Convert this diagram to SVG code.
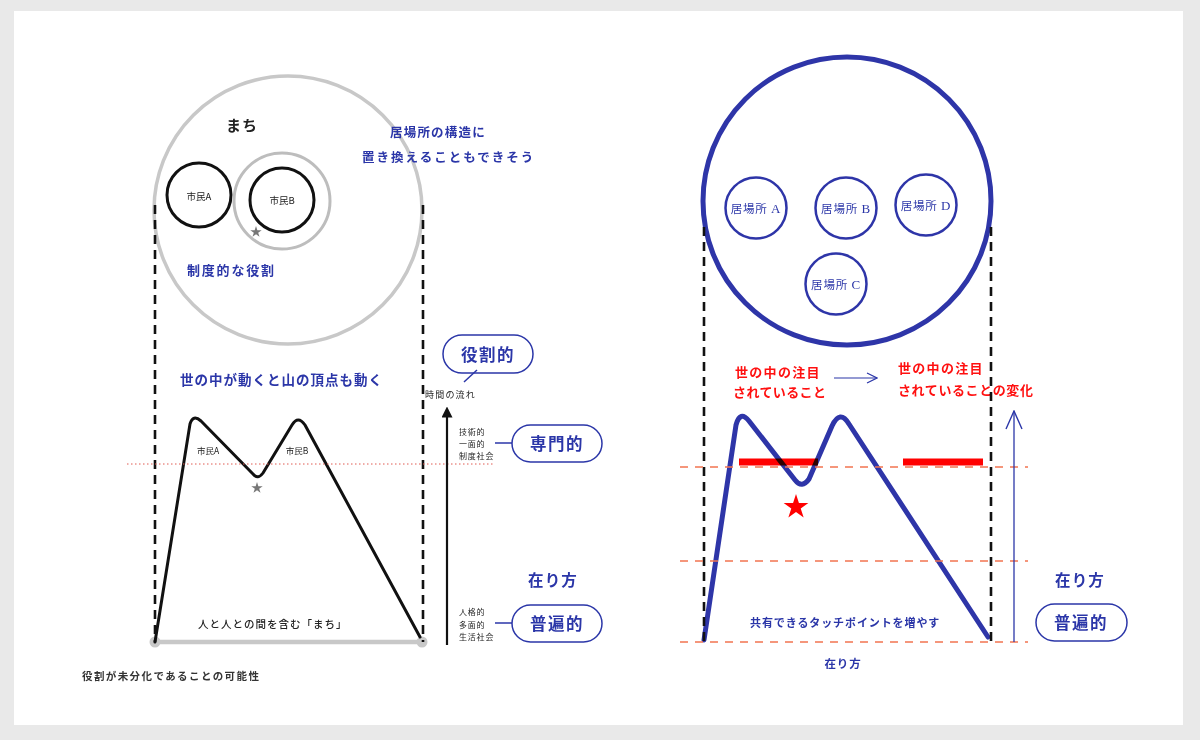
<svg xmlns="http://www.w3.org/2000/svg" width="1200" height="740" viewBox="0 0 1200 740">
<defs>
<style>
text{font-family:"Noto Sans CJK JP","Noto Sans",sans-serif;}
.blue{fill:#2b36a8;font-weight:bold;}
.red{fill:#ff1010;font-weight:bold;}
.blk{fill:#222;font-weight:bold;}
.pill{fill:#fff;stroke:#2b36a8;stroke-width:1.5;}
.dashv{stroke:#111;stroke-width:2.6;stroke-dasharray:9 6;fill:none;}
.orange{stroke:#f27450;stroke-width:1.3;stroke-dasharray:8 7;fill:none;}
.thinblue{stroke:#2b36a8;stroke-width:1.5;fill:none;}
.ib{fill:#2b36a8;font-size:11.5px;letter-spacing:0.8px;}
.ser{font-family:"Liberation Serif","DejaVu Serif",serif;font-size:13px;}
</style>
<polygon id="star" points="0,-10 2.25,-3.09 9.51,-3.09 3.63,1.18 5.88,8.09 0,3.82 -5.88,8.09 -3.63,1.18 -9.51,-3.09 -2.25,-3.09"/>
<marker id="arrBlack" viewBox="0 0 10 10" refX="5" refY="5" markerWidth="5" markerHeight="5" orient="auto">
<path d="M0,0 L10,5 L0,10 z" fill="#111"/>
</marker>
<marker id="arrOpen" viewBox="0 0 12 12" refX="11" refY="6" markerWidth="12" markerHeight="12" markerUnits="userSpaceOnUse" orient="auto">
<path d="M1,1 L11,6 L1,11" fill="none" stroke="#2b36a8" stroke-width="1.2"/>
</marker>
<marker id="arrOpenBig" viewBox="0 0 20 20" refX="19" refY="10" markerWidth="20" markerHeight="20" markerUnits="userSpaceOnUse" orient="auto">
<path d="M1,2 L19,10 L1,18" fill="none" stroke="#2b36a8" stroke-width="1.4"/>
</marker>
</defs>
<rect x="0" y="0" width="1200" height="740" fill="#e9e9e9"/>
<rect x="14" y="11" width="1169" height="714" fill="#fff"/>

<!-- LEFT PANEL -->
<g id="machi-circle">
<circle cx="288" cy="210" r="134" fill="none" stroke="#c8c8c8" stroke-width="3.5"/>
<text x="242" y="131" class="blk" font-size="15" text-anchor="middle" letter-spacing="1">まち</text>
</g>
<g id="shimin-a">
<circle cx="199" cy="195" r="32" fill="none" stroke="#111" stroke-width="3"/>
<text x="199" y="200" fill="#222" font-size="9.5" text-anchor="middle">市民A</text>
</g>
<g id="shimin-b">
<circle cx="282" cy="201" r="48" fill="none" stroke="#bdbdbd" stroke-width="3"/>
<circle cx="282" cy="200" r="32" fill="none" stroke="#111" stroke-width="3"/>
<text x="282" y="204" fill="#222" font-size="9.5" text-anchor="middle">市民B</text>
<use href="#star" transform="translate(256,232) scale(0.6)" fill="#777"/>
</g>
<g id="label-seido">
<text x="187" y="275" class="blue" font-size="13" letter-spacing="1.8">制度的な役割</text>
</g>
<g id="label-ibasho-kouzou">
<text x="390" y="137" class="blue" font-size="12.5" letter-spacing="1.2">居場所の構造に</text>
<text x="362" y="162" class="blue" font-size="12.5" letter-spacing="2">置き換えることもできそう</text>
</g>
<g id="label-yononaka">
<text x="180" y="385" class="blue" font-size="13.5" letter-spacing="1">世の中が動くと山の頂点も動く</text>
</g>

<g id="left-mountain">
<line x1="155" y1="642" x2="422" y2="642" stroke="#c8c8c8" stroke-width="4.5"/>
<circle cx="155" cy="642" r="5.5" fill="#c8c8c8"/>
<circle cx="422" cy="642" r="5.5" fill="#c8c8c8"/>
<path d="M155,642 L190,424 Q193,414 201,421 L253,474 Q258,480 263,473 L292,425 Q298,415 305,425 L420,637" fill="none" stroke="#111" stroke-width="3" stroke-linejoin="round" stroke-linecap="round"/>
<text x="208" y="454" fill="#222" font-size="8.5" text-anchor="middle">市民A</text>
<text x="297" y="454" fill="#222" font-size="8.5" text-anchor="middle">市民B</text>
<use href="#star" transform="translate(257,488) scale(0.6)" fill="#777"/>
<text x="198" y="628" fill="#222" font-weight="500" font-size="10.5" letter-spacing="1">人と人との間を含む「まち」</text>
</g>

<g id="left-time-axis">
<text x="425" y="398" fill="#222" font-size="9" letter-spacing="1.2">時間の流れ</text>
</g>
<g id="pill-yakuwari">
<rect x="443" y="335" width="90" height="38" rx="19" class="pill"/>
<text x="488" y="361" class="blue" font-size="16.5" text-anchor="middle" letter-spacing="1.5">役割的</text>
</g>
<g id="pill-senmon">
<rect x="512" y="425" width="90" height="37" rx="18.5" class="pill"/>
<text x="557" y="450" class="blue" font-size="16.5" text-anchor="middle" letter-spacing="1.5">専門的</text>
<text x="459" y="435" fill="#222" font-size="8" letter-spacing="0.8">技術的</text>
<text x="459" y="447" fill="#222" font-size="8" letter-spacing="0.8">一面的</text>
<text x="459" y="459" fill="#222" font-size="8" letter-spacing="0.8">制度社会</text>
</g>
<g id="label-arikata-left">
<text x="553" y="586" class="blue" font-size="15.5" text-anchor="middle" letter-spacing="1.2">在り方</text>
</g>
<g id="pill-fuhen-left">
<rect x="512" y="605" width="90" height="37" rx="18.5" class="pill"/>
<text x="557" y="630" class="blue" font-size="16.5" text-anchor="middle" letter-spacing="1.5">普遍的</text>
<text x="459" y="615" fill="#222" font-size="8" letter-spacing="0.8">人格的</text>
<text x="459" y="628" fill="#222" font-size="8" letter-spacing="0.8">多面的</text>
<text x="459" y="640" fill="#222" font-size="8" letter-spacing="0.8">生活社会</text>
</g>
<g id="caption-left">
<text x="82" y="680" fill="#333" font-weight="bold" font-size="10.5" letter-spacing="1.4">役割が未分化であることの可能性</text>
</g>

<!-- RIGHT PANEL -->
<g id="ibasho-circle">
<circle cx="847" cy="201" r="144" fill="none" stroke="#2e35a8" stroke-width="5"/>
</g>
<g id="ibasho-a">
<circle cx="756" cy="208" r="30.5" fill="none" stroke="#2e35a8" stroke-width="2.5"/>
<text x="756" y="213" class="ib" text-anchor="middle">居場所 <tspan class="ser">A</tspan></text>
</g>
<g id="ibasho-b">
<circle cx="846" cy="208" r="30.5" fill="none" stroke="#2e35a8" stroke-width="2.5"/>
<text x="846" y="213" class="ib" text-anchor="middle">居場所 <tspan class="ser">B</tspan></text>
</g>
<g id="ibasho-d">
<circle cx="926" cy="205" r="30.5" fill="none" stroke="#2e35a8" stroke-width="2.5"/>
<text x="926" y="210" class="ib" text-anchor="middle">居場所 <tspan class="ser">D</tspan></text>
</g>
<g id="ibasho-c">
<circle cx="836" cy="284" r="30.5" fill="none" stroke="#2e35a8" stroke-width="2.5"/>
<text x="836" y="289" class="ib" text-anchor="middle">居場所 <tspan class="ser">C</tspan></text>
</g>

<g id="label-chumoku-1">
<text x="735" y="377" class="red" font-size="13" letter-spacing="1.3">世の中の注目</text>
<text x="733" y="397" class="red" font-size="13" letter-spacing="0.4">されていること</text>
</g>
<g id="label-chumoku-2">
<text x="898" y="373" class="red" font-size="13" letter-spacing="1.3">世の中の注目</text>
<text x="898" y="395" class="red" font-size="13" letter-spacing="0.6">されていることの変化</text>
</g>

<g id="right-mountain">
<path d="M704,640 L736,425 Q740,410 749,421 L795,480 Q802,489 809,479 L832,426 Q840,409 849,424 L988,637" fill="none" stroke="#2e35a8" stroke-width="5" stroke-linejoin="round" stroke-linecap="round"/>
<rect x="739" y="458.5" width="79" height="7" fill="#ff0000" style="mix-blend-mode:multiply"/>
<rect x="903" y="458.5" width="80" height="7" fill="#ff0000"/>
<use href="#star" transform="translate(796,507) scale(1.3)" fill="#ff0000"/>
<text x="750" y="627" class="blue" font-size="11" letter-spacing="0.9">共有できるタッチポイントを増やす</text>
<text x="843" y="668" class="blue" font-weight="normal" font-size="11.5" text-anchor="middle" letter-spacing="0.8">在り方</text>
</g>
<g id="label-arikata-right">
<text x="1080" y="586" class="blue" font-size="15.5" text-anchor="middle" letter-spacing="1.2">在り方</text>
</g>
<g id="pill-fuhen-right">
<rect x="1036" y="604" width="91" height="37" rx="18.5" class="pill"/>
<text x="1081" y="629" class="blue" font-size="16.5" text-anchor="middle" letter-spacing="1.5">普遍的</text>
</g>

<!-- CONNECTORS -->
<g id="connectors">
<line x1="155" y1="205" x2="155" y2="642" class="dashv"/>
<line x1="423" y1="205" x2="423" y2="642" class="dashv"/>
<line x1="127" y1="464" x2="495" y2="464" stroke="#e05a50" stroke-width="1" stroke-dasharray="1.5 2.5"/>
<line x1="447" y1="645" x2="447" y2="412" stroke="#111" stroke-width="2.2" marker-end="url(#arrBlack)"/>
<line x1="477" y1="370" x2="464" y2="382" class="thinblue" stroke-width="1.2"/>
<line x1="495" y1="443" x2="512" y2="443" class="thinblue" stroke-width="1.2"/>
<line x1="495" y1="623" x2="512" y2="623" class="thinblue" stroke-width="1.2"/>

<line x1="704" y1="227" x2="704" y2="642" class="dashv"/>
<line x1="991" y1="227" x2="991" y2="642" class="dashv"/>
<line x1="680" y1="467" x2="1028" y2="467" class="orange"/>
<line x1="680" y1="561" x2="1028" y2="561" class="orange"/>
<line x1="680" y1="642" x2="1028" y2="642" class="orange"/>
<line x1="834" y1="378" x2="877" y2="378" stroke="#2b36a8" stroke-width="1.2" marker-end="url(#arrOpen)"/>
<line x1="1014" y1="642" x2="1014" y2="411" stroke="#2b36a8" stroke-width="1.3" marker-end="url(#arrOpenBig)"/>
</g>
</svg>
